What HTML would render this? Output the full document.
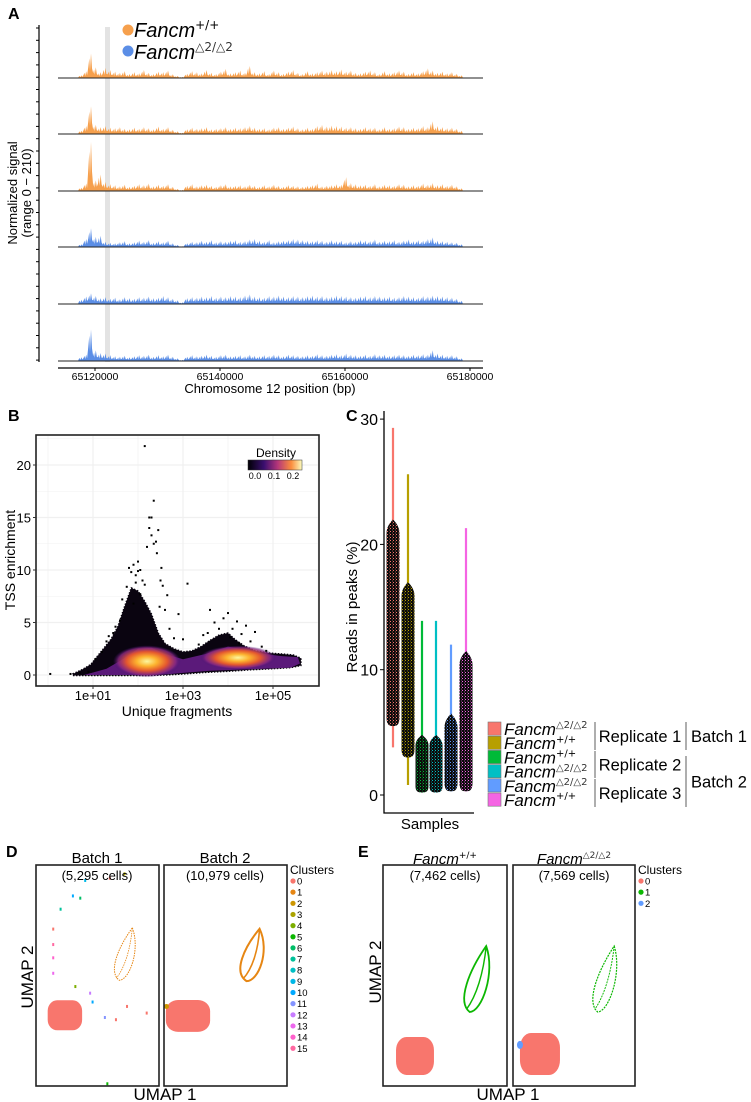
<!DOCTYPE html>
<html><head><meta charset="utf-8"><style>
body{margin:0;background:#fff}
svg{display:block;font-family:"Liberation Sans",Arial,sans-serif}
</style></head><body>
<svg id="fig" width="751" height="1102" viewBox="0 0 751 1102" xmlns="http://www.w3.org/2000/svg">
<defs>
<linearGradient id="cbar" x1="0" x2="1" y1="0" y2="0">
<stop offset="0" stop-color="#000004"/><stop offset="0.3" stop-color="#3b0f70"/><stop offset="0.55" stop-color="#b5367a"/><stop offset="0.8" stop-color="#fb8d3d"/><stop offset="1" stop-color="#fcfdbf"/>
</linearGradient>
<radialGradient id="blob">
<stop offset="0" stop-color="#fcf7a0"/><stop offset="0.3" stop-color="#fdb42f"/><stop offset="0.6" stop-color="#e4572e"/><stop offset="0.85" stop-color="#8c2981" stop-opacity="0.8"/><stop offset="1" stop-color="#3b0f70" stop-opacity="0"/>
</radialGradient>
</defs>
<g id="panelA"></g>
<g id="panelB"></g>
<g id="panelC"></g>
<g id="panelD"></g>
<g id="panelE"></g>
</svg>
<script>
// ===== Panel A data =====
const trackGenotype = ["wt","wt","wt","ko","ko","ko"];
const trackTicks = [65120000, 65140000, 65160000, 65180000];
const track1 = [10,25,92,40,22,38,30,24,20,26,15,22,18,30,20,15,24,22,28,14,8,4,16,26,22,18,30,20,15,24,34,18,22,28,20,45,22,18,26,15,28,22,16,24,30,20,15,26,18,22,28,24,30,26,32,24,28,20,18,24,28,22,15,26,18,22,28,24,16,22,18,26,36,28,20,24,18,22,16,10];
const track2 = [12,30,104,35,26,30,24,22,26,20,18,24,20,26,22,18,28,20,26,16,10,5,18,24,20,22,26,18,20,22,26,20,24,22,26,30,24,20,22,18,24,26,20,24,28,22,18,24,20,30,34,28,32,30,28,24,26,22,20,26,22,24,18,26,20,22,28,26,20,24,22,30,26,48,30,26,22,24,20,12];
const track3 = [12,28,184,40,62,34,26,22,18,24,16,20,26,22,28,18,24,20,26,16,8,4,20,26,18,22,24,20,16,22,26,18,20,22,18,24,20,16,22,18,24,20,16,22,20,18,16,20,22,28,18,20,22,26,24,52,30,26,22,24,20,26,18,24,22,20,26,24,18,22,20,28,24,30,22,26,20,24,18,10];
const track4 = [10,30,70,38,42,20,16,14,18,22,14,18,24,20,26,16,22,18,24,14,8,3,14,20,18,24,20,26,18,22,20,24,26,20,22,28,30,24,20,26,18,22,24,26,30,28,26,24,22,26,24,20,26,22,24,18,22,20,26,24,22,28,20,24,22,26,20,24,28,22,26,24,30,36,24,22,20,18,16,10];
const track5 = [16,28,40,30,22,26,20,24,18,26,22,20,26,24,28,22,24,30,26,20,14,6,22,26,24,28,26,30,24,28,26,30,28,26,32,36,28,26,24,30,28,32,28,26,30,28,26,30,32,28,30,26,28,32,30,28,26,24,28,30,26,30,28,26,28,24,26,30,28,26,24,30,28,32,30,28,26,24,20,12];
const track6 = [14,24,118,40,30,28,22,18,16,20,14,18,22,20,24,16,22,18,24,16,10,4,16,22,18,20,24,20,16,22,24,18,20,22,18,24,20,18,22,20,24,22,18,24,22,20,18,22,20,26,22,20,24,26,22,28,24,22,20,24,20,26,22,24,20,22,24,22,20,24,22,26,24,40,28,24,20,22,18,10];
const tracks = [track1,track2,track3,track4,track5,track6];

// ===== Panel B data =====
const bTicksX = [1,3,5];
const bTicksY = [0,5,10,15,20];
const bEnvLog = [0.55,0.75,0.95,1.1,1.25,1.4,1.55,1.7,1.85,2.0,2.15,2.3,2.45,2.6,2.8,3.0,3.2,3.4,3.6,3.8,4.0,4.15,4.35,4.6,4.9,5.2,5.45,5.62,5.62,5.4,5.0,4.5,4.0,3.5,3.0,2.6,2.2,1.0,0.55];
const bEnvTss = [0.1,0.5,1.0,1.8,2.6,3.4,4.6,6.5,8.3,8.0,7.0,5.8,4.0,3.0,2.5,2.2,2.3,2.7,3.3,3.8,4.0,3.4,2.8,2.3,2.1,2.0,1.9,1.6,0.9,0.7,0.6,0.5,0.35,0.25,0.1,0.0,-0.05,-0.05,-0.05];
const bPurpleLog = [0.8,1.3,1.7,2.0,2.3,2.6,3.0,3.5,4.0,4.4,4.8,5.2,5.55,5.6,5.4,4.8,4.2,3.6,3.0,2.6,2.2,1.5,0.8];
const bPurpleTss = [0,0.6,1.6,2.5,2.6,2.0,1.5,2.0,2.7,2.4,2.0,1.8,1.7,1.1,0.7,0.6,0.5,0.4,0.2,0.05,0,0,0];
const bBlobLog = [2.2, 4.22];
const bBlobTss = [1.3, 1.65];
const bPtLog = [0.05,0.5,0.7,0.9,1.05,1.2,1.3,1.45,1.6,1.65,1.75,1.8,1.9,1.95,2.0,2.05,2.1,2.15,2.2,2.25,2.3,2.35,2.4,2.45,2.5,2.55,2.6,2.65,2.7,2.8,2.9,3.0,3.1,3.35,3.45,3.6,3.7,3.8,3.9,4.0,4.1,4.2,4.3,4.4,4.5,4.6,4.75,4.85,1.85,1.95,2.05,2.25,2.35,2.42,1.5,1.35,2.15,2.3,3.55,4.05,4.25,2.48,2.52,2.0,1.9];
const bPtTss = [0.1,0.1,0.2,0.3,1.5,2.2,3.2,4.0,5.2,7.2,8.4,10.2,10.5,9.5,10.8,10.0,9.0,8.6,12.2,15.0,15.0,16.6,12.7,13.8,9.0,8.5,6.2,7.6,4.4,3.5,5.8,3.4,8.7,2.9,3.8,6.2,5.0,4.4,5.4,5.9,4.4,5.1,3.9,4.7,3.2,4.1,2.7,2.3,9.8,8.8,7.7,14.0,12.5,11.6,4.6,3.7,21.8,13.3,4.0,3.6,3.0,6.5,10.2,9.9,6.8];

// ===== Panel C data =====
const cTicks = [0,10,20,30];
const cMax = [29.3,25.6,13.9,13.9,12.0,21.3];
const cMin = [3.8,0.8,0.2,0.2,0.3,0.3];
const cBodyHi = [22,17,4.8,4.8,6.5,11.5];
const cBodyLo = [5.5,3.0,0.2,0.2,0.3,0.3];
const cColors = ["#F8766D","#B79F00","#00BA38","#00BFC4","#619CFF","#F564E3"];
const cGeno = ["ko","wt","wt","ko","ko","wt"];

// ===== Panel D/E data (UMAP units 0..100) =====
const dBlobU1 = [23.5, 19.5];
const dBlobU2 = [32, 31.7];
const dBlobR1 = [14, 18];
const dBlobR2 = [6.8, 7.2];
const dLeafU1 = [73, 72.4];
const dLeafU2 = [59.7, 59.3];
const eBlobU1 = [25.8, 22.1];
const eBlobU2 = [13.6, 14.5];
const eLeafU1 = [76.6, 76.2];
const eLeafU2 = [48.4, 48.4];
const dDotU1 = [72,60,40,30,36,20,14,14,14,14,32,46,74,65,56,90,58,44];
const dDotU2 = [96,94,93,86,85,80,71,64,58,51,45,38,36,30,31,33,1,42];
const dDotCl = [3,0,9,10,6,7,0,15,14,13,4,10,0,0,11,0,5,12];
const clusterColors = ["#F8766D","#E68613","#CD9600","#ABA300","#7CAE00","#0CB702","#00BE67","#00C19A","#00BFC4","#00B8E7","#00A9FF","#8494FF","#C77CFF","#ED68ED","#FF61CC","#FF68A1"];

const NS="http://www.w3.org/2000/svg";
function mk(parent, tag, attrs, text){
  const e=document.createElementNS(NS,tag);
  for(const k in attrs) e.setAttribute(k, attrs[k]);
  if(text!==undefined) e.textContent=text;
  parent.appendChild(e); return e;
}
function fancm(parent, x, y, size, geno, anchor, name){
  const t=mk(parent,'text',{x:x,y:y,'font-size':size,'text-anchor':anchor||'start','font-style':'italic',fill:'#000'});
  
  
  const a=document.createElementNS(NS,'tspan'); a.textContent='Fancm'; t.appendChild(a);
  const b=document.createElementNS(NS,'tspan');
  b.setAttribute('font-size', Math.round(size*0.6)); b.setAttribute('dy', -size*0.4); b.setAttribute('font-style','normal');
  b.setAttribute('font-family','"DejaVu Sans","Liberation Sans",sans-serif');
  b.textContent = geno==='wt' ? '+/+' : '\u25B32/\u25B32';
  if(geno!=='wt') b.setAttribute('fill','#333');
  t.appendChild(b);
  return t;
}
function label(parent,x,y,size,txt,name,opts){
  const a=Object.assign({x:x,y:y,'font-size':size,'text-anchor':'middle',fill:'#000'},opts||{});
  const t=mk(parent,'text',a,txt);
  
  
  return t;
}

// ===== Panel A =====
(function(){
  const g=document.getElementById('panelA');
  const xA = bp => 95 + (bp-65120000)/20000*125;
  const sigX0=78, sigX1=463;
  const baselines=[78,134,191,247,304,361];
  const sc=56/210;
  label(g,8,19,16,'A','panel-label-a',{'font-weight':'bold','text-anchor':'start'});
  const ax=mk(g,'line',{x1:39,y1:25,x2:39,y2:362,stroke:'#000','stroke-width':1.2});
   
  for(let y=28;y<=362;y+=12.3){ mk(g,'line',{x1:36,y1:y,x2:39,y2:y,stroke:'#000','stroke-width':1}); }
  const hl=mk(g,'rect',{x:105,y:27,width:5,height:335,fill:'#e3e3e3'});
   
  tracks.forEach((arr,i)=>{
    const base=baselines[i];
    const w=(sigX1-sigX0)/arr.length;
    let d='M'+sigX0+','+base;
    arr.forEach((v,j)=>{
      const x0=sigX0+j*w;
      d+=' L'+(x0+w*0.15).toFixed(1)+','+(base-v*sc*0.45).toFixed(1);
      d+=' L'+(x0+w*0.35).toFixed(1)+','+(base-v*sc*0.8).toFixed(1);
      d+=' L'+(x0+w*0.5).toFixed(1)+','+(base-v*sc*0.3).toFixed(1);
      d+=' L'+(x0+w*0.7).toFixed(1)+','+(base-v*sc).toFixed(1);
      d+=' L'+(x0+w*0.9).toFixed(1)+','+(base-v*sc*0.4).toFixed(1);
    });
    d+=' L'+sigX1+','+base+' Z';
    const col = trackGenotype[i]==='wt' ? '#F6A04D' : '#5B8EE6';
    const p=mk(g,'path',{d:d,fill:col});
    
    
    const bl=mk(g,'line',{x1:58,y1:base,x2:483,y2:base,stroke:'#222','stroke-width':1});
    
    
  });
  const xl=mk(g,'line',{x1:58,y1:368,x2:483,y2:368,stroke:'#000','stroke-width':1.2});
   
  trackTicks.forEach(t=>{
    mk(g,'line',{x1:xA(t),y1:368,x2:xA(t),y2:371,stroke:'#000'});
    label(g,xA(t),380,10.5,String(t),'a-x-tick-label');
  });
  label(g,270,393,13,'Chromosome 12 position (bp)','a-x-axis-title');
  const yt=mk(g,'text',{'font-size':13,'text-anchor':'middle',transform:'translate(17,193) rotate(-90)'});
   
  const s1=document.createElementNS(NS,'tspan'); s1.setAttribute('x',0); s1.setAttribute('y',0); s1.textContent='Normalized signal'; yt.appendChild(s1);
  const s2=document.createElementNS(NS,'tspan'); s2.setAttribute('x',0); s2.setAttribute('y',14); s2.textContent='(range 0 \u2212 210)'; yt.appendChild(s2);
  const c1=mk(g,'circle',{cx:128,cy:30,r:5.5,fill:'#F6A04D'});  
  fancm(g,134,37,20,'wt','start','legend-entry-wt');
  const c2=mk(g,'circle',{cx:128,cy:51,r:5.5,fill:'#5B8EE6'});  
  fancm(g,134,59,20,'ko','start','legend-entry-ko');
})();

// ===== Panel B =====
(function(){
  const g=document.getElementById('panelB');
  const xB = l => 93 + (l-1)*45;
  const yB = v => 675 - v*10.5;
  label(g,8,421,16,'B','panel-label-b',{'font-weight':'bold','text-anchor':'start'});
  for(let l=0;l<=6;l+=1){ const x=xB(l); if(x>36&&x<319) mk(g,'line',{x1:x,y1:436,x2:x,y2:686,stroke:'#f0f0f0','stroke-width':l%2?1.2:0.6}); }
  for(let v=0;v<=22.5;v+=2.5){ mk(g,'line',{x1:36,y1:yB(v),x2:319,y2:yB(v),stroke:'#f0f0f0','stroke-width':v%5?0.6:1.2}); }
  let d=''; bEnvLog.forEach((l,i)=>{ d+=(i?' L':'M')+xB(l).toFixed(1)+','+yB(bEnvTss[i]).toFixed(1); }); d+=' Z';
  const env=mk(g,'path',{d:d,fill:'#0a0410',stroke:'#0a0410','stroke-width':1.5,'stroke-dasharray':'1.5 1.5'});  
  d=''; bPurpleLog.forEach((l,i)=>{ d+=(i?' L':'M')+xB(l).toFixed(1)+','+yB(bPurpleTss[i]).toFixed(1); }); d+=' Z';
  const pu=mk(g,'path',{d:d,fill:'#5b1a7a'});  
  const blobR=[[34,16],[38,12]];
  bBlobLog.forEach((l,i)=>{
    const e=mk(g,'ellipse',{cx:xB(l),cy:yB(bBlobTss[i]),rx:blobR[i][0],ry:blobR[i][1],fill:'url(#blob)'});
     
  });
  bPtLog.forEach((l,i)=>{
    const r=mk(g,'rect',{x:xB(l)-1,y:yB(bPtTss[i])-1,width:2,height:2,fill:'#000'});
     
  });
  const fr=mk(g,'rect',{x:36,y:435,width:283,height:251,fill:'none',stroke:'#222','stroke-width':1.6});
   
  bTicksY.forEach(v=>{ mk(g,'line',{x1:33,y1:yB(v),x2:36,y2:yB(v),stroke:'#333'}); label(g,31,yB(v)+5,13,String(v),'b-y-tick-label',{'text-anchor':'end'}); });
  bTicksX.forEach(l=>{ mk(g,'line',{x1:xB(l),y1:686,x2:xB(l),y2:689,stroke:'#333'}); label(g,xB(l),700,13,'1e+0'+l,'b-x-tick-label'); });
  label(g,177,716,14,'Unique fragments','b-x-axis-title');
  label(g,0,0,14,'TSS enrichment','b-y-axis-title',{transform:'translate(15,560) rotate(-90)'});
  label(g,276,457,12,'Density','density-legend-title');
  const cb=mk(g,'rect',{x:248,y:460,width:54,height:10,fill:'url(#cbar)',stroke:'#333','stroke-width':0.5});
   
  ['0.0','0.1','0.2'].forEach((t,i)=>label(g,255+i*19,479,9,t,'colorbar-tick-label'));
})();

// ===== Panel C =====
(function(){
  const g=document.getElementById('panelC');
  const yC = v => 795 - v*12.53;
  const xs=[393,408,422,436,451,466];
  label(g,346,421,16,'C','panel-label-c',{'font-weight':'bold','text-anchor':'start'});
  const defs=document.querySelector('defs');
  cColors.forEach((c,i)=>{
    const p=mk(defs,'pattern',{id:'pc'+i,width:3,height:3,patternUnits:'userSpaceOnUse'});
    mk(p,'rect',{x:0,y:0,width:3,height:3,fill:'#0b0b0b'});
    mk(p,'rect',{x:0,y:0,width:1,height:1,fill:c});
    mk(p,'rect',{x:2,y:1.5,width:1,height:1,fill:c,opacity:0.6});
  });
  xs.forEach((x,i)=>{
    const ln=mk(g,'line',{x1:x,y1:yC(cMax[i]),x2:x,y2:yC(cMin[i]),stroke:cColors[i],'stroke-width':2.2});
     
    const hw=6.5, top=yC(cBodyHi[i]), bot=yC(cBodyLo[i]);
    const h=bot-top, tp=Math.min(h*0.18,14);
    const d='M'+x+','+top+' C'+(x+hw*0.6)+','+(top+tp*0.3)+' '+(x+hw)+','+(top+tp*0.6)+' '+(x+hw)+','+(top+tp)+
      ' L'+(x+hw)+','+(bot-tp*0.6)+' C'+(x+hw)+','+bot+' '+(x+hw*0.4)+','+bot+' '+x+','+bot+
      ' C'+(x-hw*0.4)+','+bot+' '+(x-hw)+','+bot+' '+(x-hw)+','+(bot-tp*0.6)+
      ' L'+(x-hw)+','+(top+tp)+' C'+(x-hw)+','+(top+tp*0.6)+' '+(x-hw*0.6)+','+(top+tp*0.3)+' '+x+','+top+' Z';
    const b=mk(g,'path',{d:d,fill:'url(#pc'+i+')'});
     
  });
  const ya=mk(g,'polyline',{points:'384,411 384,813 474,813',fill:'none',stroke:'#000','stroke-width':1.3});
   
  cTicks.forEach(v=>{ mk(g,'line',{x1:380,y1:yC(v),x2:384,y2:yC(v),stroke:'#000'}); label(g,378,yC(v)+6,16,String(v),'c-y-tick-label',{'text-anchor':'end'}); });
  label(g,430,829,15,'Samples','c-x-axis-title');
  label(g,0,0,15,'Reads in peaks (%)','c-y-axis-title',{transform:'translate(357,607) rotate(-90)'});
  cColors.forEach((c,i)=>{
    const y=722+i*14.2;
    const r=mk(g,'rect',{x:488,y:y,width:13,height:13.2,fill:c,stroke:'#777','stroke-width':0.6});
     
    fancm(g,504,y+13,17,cGeno[i],'start','legend-genotype-'+(i+1));
  });
  [[722,750],[751,778],[779,807]].forEach((s,i)=>{
    const l=mk(g,'line',{x1:595,y1:s[0],x2:595,y2:s[1],stroke:'#777','stroke-width':1.2});
     
    label(g,640,(s[0]+s[1])/2+6,16.5,'Replicate '+(i+1),'replicate-label-'+(i+1));
  });
  [[722,750],[756,807]].forEach((s,i)=>{
    const l=mk(g,'line',{x1:686,y1:s[0],x2:686,y2:s[1],stroke:'#777','stroke-width':1.2});
     
    label(g,719,(s[0]+s[1])/2+6,16.5,'Batch '+(i+1),'batch-label-'+(i+1));
  });
})();

// ===== UMAP helpers =====
function umapPanel(g, fx0, fx1, blob, leaf, leafColor, extra, name){
  const fy0=865, fy1=1086;
  const ux = u => fx0 + u/100*(fx1-fx0);
  const uy = u => fy1 - u/100*(fy1-fy0);
  const cx=ux(blob[0]), cy=uy(blob[1]), rx=(blob[2]/100)*(fx1-fx0), ry=(blob[3]/100)*(fy1-fy0);
  const b=mk(g,'rect',{x:cx-rx,y:cy-ry,width:2*rx,height:2*ry,rx:rx*0.55,ry:ry*0.7,fill:'#F8766D'});
   
  const lx=ux(leaf[0]), ly=uy(leaf[1]);
  const lg=mk(g,'g',{transform:'translate('+lx+','+ly+') rotate(14)'});
   
  const lrx=leaf[2], lry=leaf[3];
  const dl='M0,'+(-lry)+' C'+(lrx*1.2)+','+(-lry*0.3)+' '+(lrx*0.9)+','+(lry*0.9)+' 0,'+lry+' C'+(-lrx*1.2)+','+(lry*0.8)+' '+(-lrx*0.8)+','+(-lry*0.2)+' 0,'+(-lry)+' Z';
  mk(lg,'path',{d:dl,fill:'none',stroke:leafColor,'stroke-width':leaf[4],'stroke-dasharray':leaf[5]});
  mk(lg,'path',{d:'M0,'+(-lry)+' C'+(lrx*0.3)+','+(-lry*0.2)+' '+(lrx*0.2)+','+(lry*0.5)+' '+(-lrx*0.3)+','+(lry*0.95),fill:'none',stroke:leafColor,'stroke-width':leaf[4]*0.8,'stroke-dasharray':leaf[5]});
  if(extra) extra(ux,uy);
  const fr=mk(g,'rect',{x:fx0,y:fy0,width:fx1-fx0,height:fy1-fy0,fill:'none',stroke:'#222','stroke-width':1.6});
   
}

// ===== Panel D =====
(function(){
  const g=document.getElementById('panelD');
  label(g,6,857,16,'D','panel-label-d',{'font-weight':'bold','text-anchor':'start'});
  umapPanel(g,36,159,[dBlobU1[0],dBlobU2[0],dBlobR1[0],dBlobR2[0]],[dLeafU1[0],dLeafU2[0],11,27,1,'1.5 1'],'#E68613',(ux,uy)=>{
    dDotU1.forEach((u,i)=>{
      const c=mk(g,'rect',{x:ux(u)-1,y:uy(dDotU2[i])-1.5,width:2,height:3,fill:clusterColors[dDotCl[i]]});
       
    });
  },'batch1');
  umapPanel(g,164,287,[dBlobU1[1],dBlobU2[1],dBlobR1[1],dBlobR2[1]],[dLeafU1[1],dLeafU2[1],13,27,2,'none'],'#E68613',(ux,uy)=>{
    const c=mk(g,'circle',{cx:ux(2),cy:uy(36),r:2.5,fill:'#CD9600'});  
  },'batch2');
  label(g,97,863,15,'Batch 1','batch1-title');
  label(g,97,880,13,'(5,295 cells)','batch1-cell-count');
  label(g,225,863,15,'Batch 2','batch2-title');
  label(g,225,880,13,'(10,979 cells)','batch2-cell-count');
  label(g,0,0,17,'UMAP 2','d-y-axis-title',{transform:'translate(33,977) rotate(-90)'});
  label(g,165,1100,17,'UMAP 1','d-x-axis-title');
  label(g,290,874,12,'Clusters','d-legend-title',{'text-anchor':'start'});
  clusterColors.forEach((c,i)=>{
    const y=881+i*11.15;
    const d=mk(g,'circle',{cx:293,cy:y,r:2.6,fill:c});  
    label(g,297,y+3.5,9.5,String(i),'d-legend-label',{'text-anchor':'start'});
  });
})();

// ===== Panel E =====
(function(){
  const g=document.getElementById('panelE');
  label(g,358,857,16,'E','panel-label-e',{'font-weight':'bold','text-anchor':'start'});
  umapPanel(g,383,507,[eBlobU1[0],eBlobU2[0],15.3,8.6],[eLeafU1[0],eLeafU2[0],13,34,1.8,'none'],'#0CB702',null,'wt');
  umapPanel(g,513,635,[eBlobU1[1],eBlobU2[1],16.4,9.5],[eLeafU1[1],eLeafU2[1],12,34,1.2,'2 1'],'#0CB702',(ux,uy)=>{
    const c=mk(g,'ellipse',{cx:ux(5.7),cy:uy(18.6),rx:3,ry:4,fill:'#619CFF'});  
  },'ko');
  fancm(g,445,864,15,'wt','middle','e-title-wt');
  label(g,445,880,13,'(7,462 cells)','e-wt-cell-count');
  fancm(g,574,864,15,'ko','middle','e-title-ko');
  label(g,574,880,13,'(7,569 cells)','e-ko-cell-count');
  label(g,0,0,17,'UMAP 2','e-y-axis-title',{transform:'translate(381,972) rotate(-90)'});
  label(g,508,1100,17,'UMAP 1','e-x-axis-title');
  label(g,638,874,12,'Clusters','e-legend-title',{'text-anchor':'start'});
  ['#F8766D','#0CB702','#619CFF'].forEach((c,i)=>{
    const y=881+i*11.15;
    const d=mk(g,'circle',{cx:641,cy:y,r:2.6,fill:c});  
    label(g,645,y+3.5,9.5,String(i),'e-legend-label',{'text-anchor':'start'});
  });
})();
</script>
</body></html>
